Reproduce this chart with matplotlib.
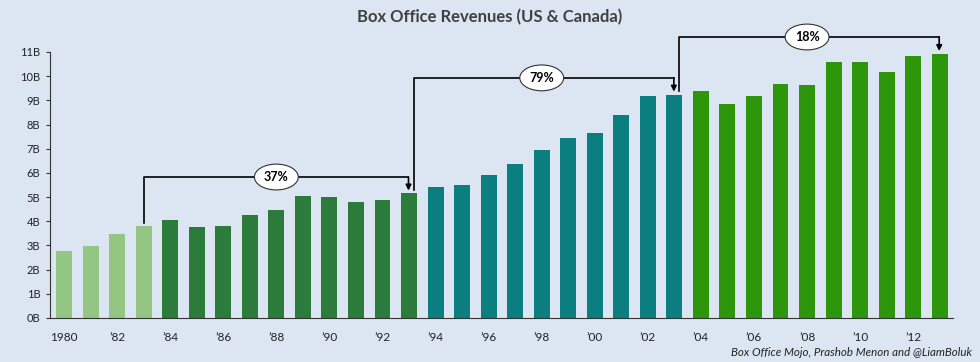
import matplotlib.pyplot as plt
import numpy as np

years = list(range(1980, 2014))
revenue = [2.77, 2.98, 3.47, 3.80, 4.05, 3.76, 3.79, 4.25, 4.46, 5.03,
           5.02, 4.80, 4.87, 5.15, 5.40, 5.49, 5.91, 6.37, 6.95, 7.45,
           7.66, 8.41, 9.16, 9.24, 9.38, 8.83, 9.20, 9.66, 9.63, 10.60,
           10.57, 10.17, 10.83, 10.92]
tick_labels = ['1980' if y == 1980 else '\u2019%02d' % (y % 100) if y % 2 == 0 else '' for y in years]
# growth brackets: (start year, end year, label)
brackets = [(1983, 1993, '37%'), (1993, 2003, '79%'), (2003, 2013, '18%')]
bracket_y = [5.83, 9.93, 11.62]

bg = '#dce6f2'
def bar_color(y):
    if y <= 1983:
        return '#93c683'
    if y <= 1993:
        return '#2b7b3b'
    if y <= 2003:
        return '#0b7f7f'
    return '#2d960b'

plt.rcParams['font.family'] = ['Lato', 'DejaVu Sans']

fig = plt.figure(figsize=(9.8, 3.62), dpi=100, facecolor=bg)
ax = fig.add_axes([50/980, 1 - 318/362, 903/980, 266/362], facecolor=bg)

x = np.arange(len(years))
ax.bar(x, revenue, width=0.6, color=[bar_color(y) for y in years], zorder=2)

ax.set_ylim(0, 11)
ax.set_xlim(-0.53, len(years) - 0.5)
ax.set_yticks(range(0, 12))
ax.set_yticklabels(['%dB' % v for v in range(0, 12)], fontsize=8, color='#222222')
ax.set_xticks(x)
ax.set_xticklabels(tick_labels, fontsize=8.5, color='#222222')
ax.tick_params(axis='x', length=0, pad=10)
ax.tick_params(axis='y', length=3, width=0.8, color='#333333', pad=4)
for s in ['top', 'right']:
    ax.spines[s].set_visible(False)
ax.spines['left'].set_color('#333333')
ax.spines['bottom'].set_color('#333333')

for (y0, y1, lab), ly in zip(brackets, bracket_y):
    i0 = years.index(y0)
    i1 = years.index(y1)
    x0 = i0 + (0.18 if y0 != 1983 else 0.0)
    start = revenue[i0] + (0.13 if y0 == 1983 else 0.15)
    ax.plot([x0, x0, i1 - 0.02], [start, ly, ly], color='black', lw=1.2,
            clip_on=False, zorder=3)
    ax.annotate('', xy=(i1 - 0.02, revenue[i1] + 0.12), xytext=(i1 - 0.02, ly),
                arrowprops=dict(arrowstyle='-|>', color='black', lw=1.2,
                                mutation_scale=8, shrinkA=0, shrinkB=0),
                annotation_clip=False, zorder=3)
    ax.text((i0 + i1) / 2, ly, lab, ha='center', va='center', fontsize=9,
            fontweight='bold', zorder=4,
            bbox=dict(boxstyle='ellipse,pad=0.25', fc='white', ec='#333333', lw=0.8))

fig.text(0.5, 1 - 17/362, 'Box Office Revenues (US & Canada)', ha='center', va='center',
         fontsize=12, fontweight='bold', color='#404040')
fig.text(972/980, 1 - 352/362, 'Box Office Mojo, Prashob Menon and @LiamBoluk',
         ha='right', va='center', fontsize=8.3, style='italic', color='#222222')

fig.savefig('out.png', dpi=100, facecolor=bg)
